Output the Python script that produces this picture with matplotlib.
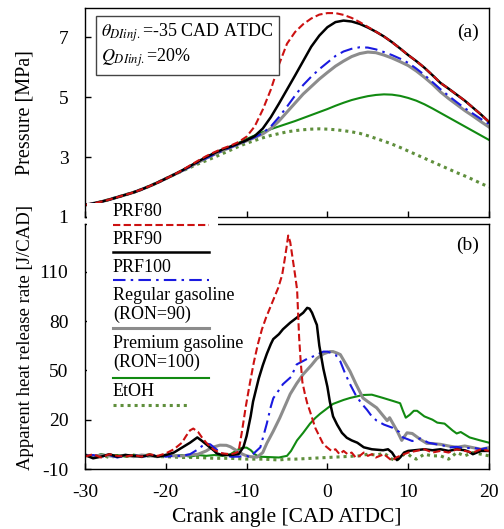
import numpy as np
import matplotlib
matplotlib.use("Agg")
import matplotlib.pyplot as plt
from matplotlib.patches import Rectangle
from matplotlib.lines import Line2D

plt.rcParams['font.family'] = ['Liberation Serif', 'DejaVu Serif']
plt.rcParams['mathtext.fontset'] = 'stix'
plt.rcParams['axes.unicode_minus'] = False

# ---- datos: presion (MPa) cada 1 CAD ----
cad_p = np.arange(-30, 21)
p_compresion = [1.40, 1.45, 1.51, 1.58, 1.66, 1.74, 1.82, 1.92, 2.03, 2.15, 2.28, 2.41]  # -30..-19
p_prf80 = [2.56, 2.72, 2.88, 3.03, 3.16, 3.28, 3.38, 3.5, 3.68, 4.02,
           4.58, 5.25, 6.08, 6.78, 7.17, 7.43, 7.62, 7.75, 7.8, 7.8,
           7.74, 7.64, 7.5, 7.34, 7.18, 7.02, 6.83, 6.62, 6.4, 6.2,
           5.98, 5.73, 5.47, 5.28, 5.08, 4.88, 4.65, 4.42, 4.17]
p_prf90 = [2.55, 2.7, 2.85, 3.0, 3.13, 3.25, 3.35, 3.45, 3.56, 3.7,
           3.95, 4.33, 4.78, 5.25, 5.72, 6.2, 6.68, 7.05, 7.33, 7.5,
           7.55, 7.52, 7.44, 7.32, 7.18, 7.02, 6.83, 6.62, 6.4, 6.2,
           5.98, 5.73, 5.47, 5.28, 5.08, 4.88, 4.65, 4.42, 4.17]
p_prf100 = [2.54, 2.68, 2.82, 2.96, 3.09, 3.21, 3.32, 3.43, 3.54, 3.66,
            3.8, 4.02, 4.33, 4.68, 5.05, 5.4, 5.68, 5.93, 6.15, 6.37,
            6.52, 6.61, 6.66, 6.65, 6.59, 6.5, 6.4, 6.28, 6.14, 5.95,
            5.74, 5.5, 5.26, 5.04, 4.83, 4.63, 4.45, 4.27, 4.1]
p_regular = [2.54, 2.68, 2.82, 2.96, 3.09, 3.21, 3.32, 3.43, 3.54, 3.65,
             3.77, 3.95, 4.2, 4.5, 4.8, 5.1, 5.35, 5.6, 5.82, 6.03,
             6.2, 6.35, 6.45, 6.5, 6.48, 6.4, 6.3, 6.18, 6.05, 5.87,
             5.66, 5.43, 5.17, 4.95, 4.75, 4.55, 4.37, 4.18, 4.0]
p_premium = [2.54, 2.68, 2.82, 2.96, 3.09, 3.21, 3.34, 3.47, 3.6, 3.72,
             3.83, 3.93, 4.02, 4.11, 4.2, 4.3, 4.4, 4.5, 4.6, 4.71,
             4.81, 4.9, 4.97, 5.03, 5.07, 5.09, 5.08, 5.04, 4.97, 4.88,
             4.76, 4.62, 4.47, 4.32, 4.17, 4.02, 3.87, 3.72, 3.57]
p_etoh = [2.53, 2.65, 2.77, 2.88, 2.99, 3.11, 3.23, 3.35, 3.46, 3.55,
          3.64, 3.72, 3.78, 3.84, 3.88, 3.91, 3.93, 3.94, 3.93, 3.91,
          3.88, 3.84, 3.79, 3.71, 3.62, 3.53, 3.43, 3.32, 3.2, 3.08,
          2.96, 2.84, 2.72, 2.6, 2.48, 2.37, 2.25, 2.12, 2.0]

# ---- datos: tasa aparente de liberacion de calor (J/CAD) ----
x_prf80 = [-30, -29, -28, -27, -26, -25, -24, -23, -22, -21, -20, -19, -18, -17.5, -17, -16.6, -16, -15.5, -15, -14.5,
           -14, -13, -12, -11.5, -11, -10.6, -10.1, -9.6, -9.1, -8.6, -8.1, -7.6, -7.1, -6.6, -6.1, -5.6, -5.3, -5.05,
           -4.85, -4.6, -4.3, -4.0, -3.75, -3.5, -3.3, -3.1, -2.8, -2.5, -2.15, -1.5, -0.9, -0.5, 0, 0.5, 1, 1.5, 2,
           2.5, 3, 3.5, 4, 4.5, 5, 5.5, 6, 6.5, 7, 7.5, 8, 8.5, 9, 10, 11, 12, 13, 14, 15, 16, 17, 18, 19, 20]
q_prf80 = [-2.5, -1, -3, -1, -2, -2.5, -1.5, -2.5, -1, -2, -0.5, 2, 6, 10, 13.5, 14.6, 12.5, 9, 6, 3.5,
           1.5, -0.5, -1, -0.5, 0.5, 12, 28, 42, 55, 66, 75, 82, 88, 94, 100, 108, 117, 125,
           132, 128, 118, 108, 99, 70, 55, 43, 36, 30, 25, 15, 9, 5, 3, 1, 2, -1, 1,
           -1, 0, -3, -2, 0, -2, -1, -3, -2, -1, -3, -5, -3, -2, 0, 1, 2, 0, 1, 0, 2, 1, 0, 2, 1]

x_prf90 = [-30, -29, -28, -27, -26, -25, -24, -23, -22, -21, -20, -19, -18, -17, -16.1, -15.5, -15, -14.5, -14, -13.7,
           -13, -12, -11, -10.4, -10, -9.5, -9.2, -8.5, -8, -7.5, -7, -6.7, -6, -5.5, -4.6, -3.8, -3, -2.5, -2.2,
           -1.9, -1.5, -1.3, -1, -0.5, 0, 0.3, 0.7, 1.2, 1.8, 2.4, 3, 3.7, 4.5, 5.5, 6.9, 7.5, 8, 8.6, 9, 9.5, 10,
           11, 12, 13, 14, 15, 16, 17, 17.5, 18, 19, 20]
q_prf90 = [-1.5, -3.5, -2.5, -1, -2.5, -1.5, -2, -2.5, -1.5, -2.5, -1.5, 0, 3, 6, 9.2, 7, 5, 3, 1, -0.5,
           -1.5, -1.5, -1, 3.2, 10, 22, 31, 45, 53, 60, 66, 69, 72, 75, 79, 82, 85, 88, 87.5,
           85, 80, 77.6, 65, 51, 40, 31, 22, 17, 12, 9, 7.4, 6, 3.2, 2, 1.4, 2, 0, -4.6, -3, 0, 1,
           1.5, 2, 1.4, 2, 1, 2, 1.4, 0.5, -1, 1, 1]

x_prf100 = [-30, -29, -28, -27, -26, -25, -24, -23, -22, -21, -20, -19, -18, -17, -16, -15.5, -15, -14.5, -14, -13.5,
            -13, -12.5, -12, -11, -10, -9.6, -9, -8.3, -7.5, -7, -6.7, -6, -5.5, -4.5, -3.8, -2.5, -1.5, -0.5, 0,
            0.5, 1, 1.6, 2.2, 2.8, 3.5, 4.2, 4.9, 5.5, 6.1, 7, 8.1, 8.9, 9.35, 10, 10.5, 11.5, 12.5, 13.5, 14.3,
            15, 16, 17, 18, 19, 20]
q_prf100 = [-2, -1.5, -2.5, -1.5, -3, -2, -1.5, -2.5, -2, -1.5, -2.5, -2, -2, -1, 2, 4, 5.5, 5, 3, 1,
            -0.5, -1.5, -2.5, -2.5, -2, -2.8, 0, 3.2, 17.6, 28, 33, 38, 41.6, 46, 53.6, 57, 59, 61.4, 61.4,
            60.5, 59.5, 55.4, 48, 41.6, 35, 30, 26, 22, 19.4, 17, 15, 12.5, 9.2, 8, 7, 8.6, 6, 5, 4.4,
            3, 3.5, 2.5, 3, 2, 3]

x_regular = [-30, -29, -28, -27, -26, -25, -24, -23, -22, -21, -20, -19, -18, -17, -16, -15, -14.5, -14, -13.3, -12.5,
             -12, -11.5, -11, -10.5, -10, -9.5, -8.7, -8, -7.5, -6.7, -5.9, -4.6, -3.8, -3, -2, -1.3, -0.5, 0.3,
             0.7, 1.2, 1.6, 2.8, 3.5, 4.4, 5, 6.1, 7.4, 7.7, 8.6, 9.2, 9.85, 10.5, 11.5, 12.3, 13, 14, 15, 16, 17,
             18, 19, 20]
q_regular = [-1.5, -2.5, -1.5, -2, -2.5, -1.5, -2.5, -1.5, -2, -2.5, -1.5, -2, -2, -1.5, -1, 1, 2.5, 3.5, 4.5, 4.4,
             3.5, 2, 0.5, -1, -2, -2.5, -2.8, 0, 5.6, 13, 21, 35.6, 42, 47.6, 53, 57.2, 60, 61.4,
             61.4, 60.5, 59.6, 49.4, 42, 33.2, 31, 27.2, 19.4, 21.2, 13.4, 7.4, 12, 11.6, 8, 5.6, 5.5, 5, 4, 3.2, 4,
             3, 2, 3]

x_premium = [-30, -29, -28, -27, -26, -25, -24, -23, -22, -21, -20, -19, -18, -17, -16, -15, -14, -13, -12, -11.5,
             -11, -10.5, -10, -9.5, -9, -8.5, -7, -6, -5, -4.5, -3.76, -3, -2.15, -1.5, -0.9, 0.7, 2, 2.8, 4.4, 5.5,
             6.9, 8.1, 9, 9.35, 9.7, 10.2, 10.7, 11.1, 12, 13, 13.6, 14.5, 15.5, 16, 16.5, 17.6, 18.9, 20]
q_premium = [-1.5, -2.5, -1, -2, -1.5, -2.5, -1.5, -2, -1, -2.5, -1.5, -2, -1.5, -2.5, -1.5, -2, -1.5, -2, -1, 0.5,
             2, 3, 3, 1.5, -1, -2.5, -2.8, -3, -2, 1, 7.4, 12, 17.6, 21, 23.6, 29.6, 32, 33.2, 35, 35.2,
             33.2, 31.4, 30, 25.4, 21.2, 23, 25.4, 25.4, 22, 20, 18.2, 17.6, 13.4, 11.6, 12.5, 9.2, 7.4, 6]

x_etoh = [-30, -29, -28, -27, -26, -25, -24, -23, -22, -21, -20, -18, -16, -14, -12, -10, -8, -6, -5, -4,
          -2, 0, 2, 4, 5, 6, 7, 7.5, 8, 8.5, 9, 9.5, 10, 10.5, 11, 12, 13, 14, 15, 16, 17, 18, 19, 20]
q_etoh = [-1.5, -2.5, -1.5, -3, -2, -2.5, -1.5, -2.5, -2, -2.5, -2.5, -3, -3, -3.5, -3.5, -4, -4, -4.5, -4, -4,
          -3.5, -3, -2.5, -2, -1, -1.5, -0.5, -2, -4, -5, -3, -1, -1, -3, -4, -1, -2, -2, -4, 0, -2, 0, -1, -2]

etiquetas = ["PRF80", "PRF90", "PRF100", "Regular gasoline\n(RON=90)", "Premium gasoline\n(RON=100)", "EtOH"]

# estilos de cada combustible
estilos = [
    dict(color='#cc1111', lw=1.5, ls=(0, (3.5, 1.6))),
    dict(color='black', lw=1.8, ls='-'),
    dict(color='#1a1ae0', lw=1.5, ls=(0, (6, 2.5, 1.2, 2.5))),
    dict(color='#8c8c8c', lw=2.2, ls='-'),
    dict(color='#118a11', lw=1.5, ls='-'),
    dict(color='#5f8f3c', lw=2.2, ls=(0, (1, 1.3))),
]

presiones = [p_prf80, p_prf90, p_prf100, p_regular, p_premium, p_etoh]
hrr = [(x_prf80, q_prf80), (x_prf90, q_prf90), (x_prf100, q_prf100),
       (x_regular, q_regular), (x_premium, q_premium), (x_etoh, q_etoh)]

fig = plt.figure(figsize=(5.04, 5.29), dpi=100)
W, H = 504, 529
ax1 = fig.add_axes([85 / W, 1 - 217 / H, 404 / W, 209 / H])
ax2 = fig.add_axes([85 / W, 1 - 469 / H, 404 / W, 245 / H])

# dibujar en orden inverso para que PRF80 quede arriba
for i in reversed(range(6)):
    p = np.array(p_compresion + presiones[i])
    ax1.plot(cad_p, p, **estilos[i])
    ax2.plot(hrr[i][0], hrr[i][1], **estilos[i])

ax1.set_xlim(-30, 20)
ax1.set_ylim(1, 7.97)
ax1.set_yticks([1, 3, 5, 7])
ax1.set_xticks([-30, -20, -10, 0, 10, 20])
ax1.tick_params(labelbottom=False)
ax1.set_ylabel("Pressure [MPa]", fontsize=14.5)
ax1.yaxis.set_label_coords(-0.125, 0.5)

ax2.set_xlim(-30, 20)
ax2.set_ylim(-10, 139)
ax2.set_yticks([-10, 20, 50, 80, 110])
ax2.set_xticks([-30, -20, -10, 0, 10, 20])
ax2.set_xlabel("Crank angle [CAD ATDC]", fontsize=15.5)
ax2.xaxis.set_label_coords(0.5, -0.16)
ax2.set_ylabel("Apparent heat release rate [J/CAD]", fontsize=13.5)
ax2.yaxis.set_label_coords(-0.125, 0.535)

for ax in (ax1, ax2):
    ax.tick_params(axis='y', direction='in', length=4, width=1, labelsize=14, pad=12)
    ax.tick_params(axis='x', direction='in', length=4, width=1, labelsize=14, pad=11)
    for s in ax.spines.values():
        s.set_linewidth(1.0)

ax1.text(0.948, 0.885, "(a)", transform=ax1.transAxes, ha='center', va='center', fontsize=14)
ax2.text(0.948, 0.914, "(b)", transform=ax2.transAxes, ha='center', va='center', fontsize=14)

# cuadro con condiciones de inyeccion
ax1.text(0.04, 0.82, r"$\theta_{DIinj.}$=-35 CAD ATDC" + "\n" + r"$Q_{DIinj.}$=20%",
         transform=ax1.transAxes, ha='left', va='center', fontsize=13, linespacing=1.15,
         bbox=dict(boxstyle='square,pad=0.3', fc='white', ec='#444444', lw=1.0))

# leyenda manual (texto arriba, muestra de linea abajo)
def fx(px):
    return px / W

def fy(py):
    return 1 - py / H

fig.patches.append(Rectangle((fx(87), fy(410)), fx(218) - fx(87), fy(203) - fy(410),
                             transform=fig.transFigure, fc='white', ec='none', zorder=5))
textos_y = [211, 239, 267, 305, 353, 392]
lineas_y = [225, 252, 280, 328, 378, 405]
for i in range(6):
    fig.text(fx(113), fy(textos_y[i]), etiquetas[i], ha='left', va='center', fontsize=13,
             linespacing=1.1, zorder=6)
    x_fin = 190 if i == 5 else 209
    fig.lines.append(Line2D([fx(113), fx(x_fin)], [fy(lineas_y[i])] * 2, transform=fig.transFigure,
                            zorder=6, **estilos[i]))

fig.savefig("out.png", dpi=100)
